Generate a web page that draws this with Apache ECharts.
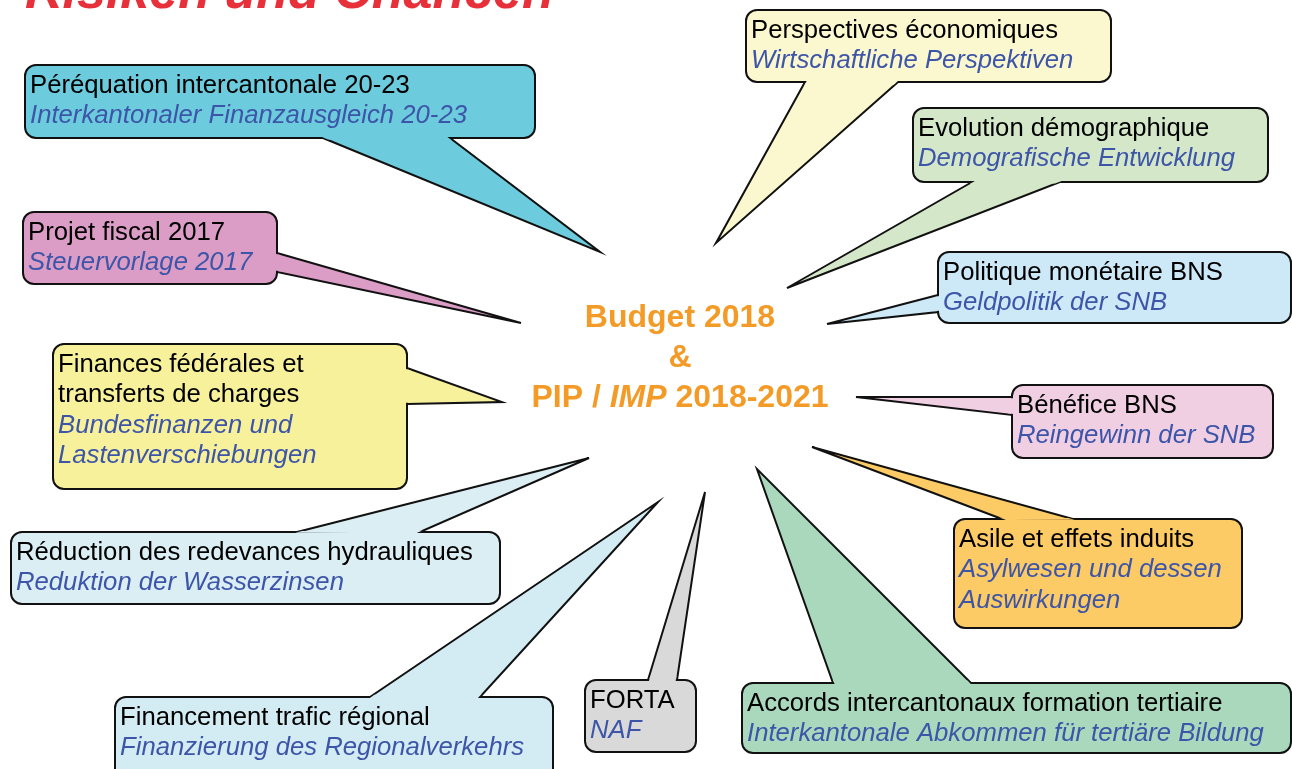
<!DOCTYPE html>
<html>
<head>
<meta charset="utf-8">
<script src="https://cdn.jsdelivr.net/npm/echarts@6/dist/echarts.min.js"></script>
<style>
  html, body { margin: 0; padding: 0; background: #fff; }
  #main { width: 1292px; height: 769px; }
</style>
</head>
<body>
<div id="main"></div>
<script>
// Themen (französisch / deutsch)
const topicsFr = [
  'Perspectives économiques',
  'Evolution démographique',
  'Politique monétaire BNS',
  'Bénéfice BNS',
  'Asile et effets induits',
  'Accords intercantonaux formation tertiaire',
  'FORTA',
  'Financement trafic régional',
  'Réduction des redevances hydrauliques',
  'Finances fédérales et\ntransferts de charges',
  'Projet fiscal 2017',
  'Péréquation intercantonale 20-23'
];
const topicsDe = [
  'Wirtschaftliche Perspektiven',
  'Demografische Entwicklung',
  'Geldpolitik der SNB',
  'Reingewinn der SNB',
  'Asylwesen und dessen\nAuswirkungen',
  'Interkantonale Abkommen für tertiäre Bildung',
  'NAF',
  'Finanzierung des Regionalverkehrs',
  'Reduktion der Wasserzinsen',
  'Bundesfinanzen und\nLastenverschiebungen',
  'Steuervorlage 2017',
  'Interkantonaler Finanzausgleich 20-23'
];
// Sprechblasen: Ecken [x0, y0, x1, y1]
const boxCorners = [
  [746, 10, 1111, 82],
  [913, 108, 1268, 182],
  [938, 252, 1291, 323],
  [1012, 385, 1273, 458],
  [954, 519, 1242, 628],
  [742, 683, 1291, 753],
  [585, 680, 696, 752],
  [115, 697, 553, 780],
  [11, 532, 500, 604],
  [53, 344, 407, 489],
  [23, 212, 277, 284],
  [25, 65, 535, 138]
];
// Zeiger: Basis A, Basis B, Spitze
const tailPoints = [
  [805, 82, 898, 82, 716, 243],
  [972, 182, 1060, 182, 787, 288],
  [938, 295, 938, 312, 827, 324],
  [1012, 397, 1012, 415, 856, 397],
  [1002, 519, 1073, 519, 812, 447],
  [833, 683, 971, 683, 757, 469],
  [648, 680, 677, 680, 705, 492],
  [370, 697, 480, 697, 658, 502],
  [297, 532, 420, 532, 589, 458],
  [407, 368, 407, 404, 502, 402],
  [277, 253, 277, 272, 521, 323],
  [323, 138, 450, 138, 600, 252]
];
const fillColors = [
  '#fbf8cf', '#d4e8c9', '#cde9f8', '#f0cfe3', '#fdcb66', '#a9d8bd',
  '#d9d9d9', '#d3ecf3', '#dbeef3', '#f7f19b', '#db9dc6', '#6ccbdc'
];

const FONT = '"Liberation Sans", Arial, sans-serif';
const BLUE = '#3d55a8';

let myChart = echarts.init(document.getElementById('main'));

let seriesData = boxCorners.map((b, i) => b.concat(tailPoints[i]));

function renderItem(params, api) {
  let i = params.dataIndex;
  let p0 = api.coord([api.value(0), api.value(1)]);
  let p1 = api.coord([api.value(2), api.value(3)]);
  let a = api.coord([api.value(4), api.value(5)]);
  let b = api.coord([api.value(6), api.value(7)]);
  let t = api.coord([api.value(8), api.value(9)]);
  let fill = fillColors[i];

  // Abdeckung der Rahmenlinie an der Zeigerbasis
  function unit(p, q) {
    let dx = q[0] - p[0], dy = q[1] - p[1];
    let l = Math.sqrt(dx * dx + dy * dy);
    return [dx / l, dy / l];
  }
  let ua = unit(a, t), ub = unit(b, t), ab = unit(a, b);
  let a2 = [a[0] + ab[0] * 1.2, a[1] + ab[1] * 1.2];
  let b2 = [b[0] - ab[0] * 1.2, b[1] - ab[1] * 1.2];
  let cover = [
    [a2[0] - ua[0] * 3, a2[1] - ua[1] * 3],
    [a2[0] + ua[0] * 4, a2[1] + ua[1] * 4],
    [b2[0] + ub[0] * 4, b2[1] + ub[1] * 4],
    [b2[0] - ub[0] * 3, b2[1] - ub[1] * 3]
  ];

  let frLines = topicsFr[i].split('\n').length;
  let lh = 30.5;
  let textX = p0[0] + 5;
  let textY = p0[1] + 5.5;

  return {
    type: 'group',
    children: [
      {
        type: 'polygon',
        shape: { points: [a, t, b] },
        style: { fill: fill, stroke: '#111', lineWidth: 2, lineJoin: 'miter', miterLimit: 10 }
      },
      {
        type: 'rect',
        shape: { x: p0[0], y: p0[1], width: p1[0] - p0[0], height: p1[1] - p0[1], r: 11 },
        style: { fill: fill, stroke: '#111', lineWidth: 2 }
      },
      {
        type: 'polygon',
        shape: { points: cover },
        style: { fill: fill }
      },
      {
        type: 'text',
        style: {
          text: topicsFr[i], x: textX, y: textY, fill: '#000',
          font: '25.7px ' + FONT, lineHeight: lh, verticalAlign: 'top'
        }
      },
      {
        type: 'text',
        style: {
          text: topicsDe[i], x: textX, y: textY + frLines * lh, fill: BLUE,
          font: 'italic 25.7px ' + FONT, lineHeight: lh, verticalAlign: 'top'
        }
      }
    ]
  };
}

let option = {
  animation: false,
  grid: { left: 0, right: 0, top: 0, bottom: 0 },
  xAxis: { type: 'value', min: 0, max: 1292, show: false },
  yAxis: { type: 'value', min: 0, max: 769, inverse: true, show: false },
  graphic: [
    {
      type: 'text',
      x: 25, y: -6,
      style: {
        text: 'Risiken und Chancen', fill: '#e8303a',
        font: 'italic bold 52px ' + FONT, verticalAlign: 'middle'
      }
    },
    {
      type: 'text',
      x: 680, y: 358,
      style: {
        text: '{b|Budget 2018}\n{b|&}\n{b|PIP / }{i|IMP}{b| 2018-2021}',
        align: 'center', verticalAlign: 'middle',
        rich: {
          b: { font: 'bold 32px ' + FONT, fill: '#f39b26', lineHeight: 40 },
          i: { font: 'italic bold 32px ' + FONT, fill: '#f39b26', lineHeight: 40 }
        }
      }
    }
  ],
  series: [
    {
      type: 'custom',
      renderItem: renderItem,
      data: seriesData,
      clip: false,
      silent: true
    }
  ]
};

option && myChart.setOption(option);
</script>
</body>
</html>
